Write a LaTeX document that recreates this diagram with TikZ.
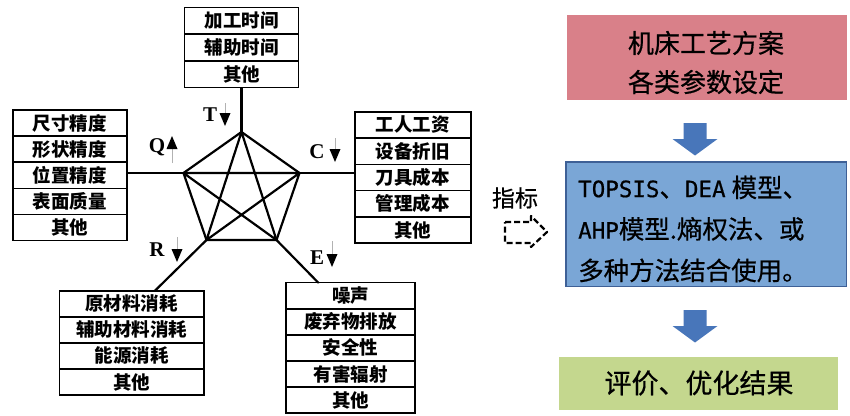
\documentclass[tikz,border=0pt]{standalone}
\usepackage{fontspec}
\setmainfont{Liberation Serif}
\newfontfamily\cjk{Noto Sans CJK SC}
\newfontfamily\cjkm[FakeBold=0.6]{Noto Sans CJK SC}
\newfontfamily\latmono[FakeBold=0.6]{DejaVu Sans Mono}
\usetikzlibrary{arrows.meta}
\definecolor{pinkc}{RGB}{217,128,137}
\definecolor{bluec}{RGB}{122,166,214}
\definecolor{blueb}{RGB}{62,96,150}
\definecolor{greenc}{RGB}{196,215,142}
\definecolor{arrowc}{RGB}{72,118,186}
\tikzset{
  cell/.style={draw, line width=1.6pt, inner sep=0pt, font=\cjk\bfseries\fontsize{18.5}{18.5}\selectfont},
  topc/.style={cell, minimum width=114pt, minimum height=26.6pt},
  leftc/.style={cell, minimum width=114pt, minimum height=26.1pt},
  rightc/.style={cell, minimum width=115.7pt, minimum height=26.3pt},
  blc/.style={cell, minimum width=144.7pt, minimum height=26.1pt},
  brc/.style={cell, minimum width=129pt, minimum height=26.06pt},
  pent/.style={line width=2.2pt, line cap=round, line join=round},
  lbl/.style={font=\fontsize{21}{21}\selectfont\bfseries, inner sep=0pt},
  tipline/.style={draw=gray!60, line width=0.7pt},
  tiphead/.style={fill=black},
  barrow/.style={fill=arrowc},
}
\begin{document}
\begin{tikzpicture}[x=1pt,y=-1pt]
\useasboundingbox[fill=white] (0,0) rectangle (850,415);

% top box
\node[topc] (t1) at (241.5,20.8) {加工时间};
\node[topc] (t2) at (241.5,47.4) {辅助时间};
\node[topc] (t3) at (241.5,74.0) {其他};
% left box
\node[leftc] (l1) at (69.7,123.05) {尺寸精度};
\node[leftc] (l2) at (69.7,149.15) {形状精度};
\node[leftc] (l3) at (69.7,175.25) {位置精度};
\node[leftc] (l4) at (69.7,201.35) {表面质量};
\node[leftc] (l5) at (69.7,227.45) {其他};
% right box
\node[rightc] (r1) at (412.9,124.85) {工人工资};
\node[rightc] (r2) at (412.9,151.15) {设备折旧};
\node[rightc] (r3) at (412.9,177.45) {刀具成本};
\node[rightc] (r4) at (412.9,203.75) {管理成本};
\node[rightc] (r5) at (412.9,230.05) {其他};
% bottom-left box
\node[blc] (b1) at (131.7,303.75) {原材料消耗};
\node[blc] (b2) at (131.7,329.85) {辅助材料消耗};
\node[blc] (b3) at (131.7,355.95) {能源消耗};
\node[blc] (b4) at (131.7,382.05) {其他};
% bottom-right box
\node[brc] (e1) at (350.5,295.7) {噪声};
\node[brc] (e2) at (350.5,321.8) {废弃物排放};
\node[brc] (e3) at (350.5,347.9) {安全性};
\node[brc] (e4) at (350.5,373.9) {有害辐射};
\node[brc] (e5) at (350.5,400.0) {其他};

% pentagon vertices
\coordinate (pT) at (241.5,132);
\coordinate (pL) at (183.5,173);
\coordinate (pR) at (299.5,173);
\coordinate (pBL) at (206.5,240);
\coordinate (pBR) at (276.5,240);
\coordinate (blend) at (155,290.7);
\coordinate (brend) at (318.3,282.7);

\draw[pent] (pT) -- (pL) -- (pBL) -- (pBR) -- (pR) -- cycle;
\draw[pent] (pT) -- (pBL) (pT) -- (pBR) (pL) -- (pR) (pL) -- (pBR) (pR) -- (pBL);
\draw[pent] (t3.south) -- (pT);
\draw[pent] (l3.east |- pL) -- (pL);
\draw[pent] (pR) -- (r3.west |- pR);
\draw[pent] (pBL) -- (blend);
\draw[pent] (pBR) -- (brend);

% labels with arrows
\node[lbl] (lT) at (210,115) {T};
\draw[tipline] (225,103) -- (225,115);
\fill[tiphead] (219.5,113) -- (230.5,113) -- (225,126) -- cycle;
\node[lbl] (lQ) at (157,147) {Q};
\draw[tipline] (172,163) -- (172,148);
\fill[tiphead] (166.5,149) -- (177.5,149) -- (172,136) -- cycle;
\node[lbl] (lC) at (317,152) {C};
\draw[tipline] (335,138) -- (335,150);
\fill[tiphead] (329.5,149) -- (340.5,149) -- (335,162) -- cycle;
\node[lbl] (lR) at (157,250) {R};
\draw[tipline] (177,237) -- (177,250);
\fill[tiphead] (171.5,249) -- (182.5,249) -- (177,262) -- cycle;
\node[lbl] (lE) at (317,258) {E};
\draw[tipline] (332,241) -- (332,255);
\fill[tiphead] (326.5,254) -- (337.5,254) -- (332,267) -- cycle;

% right side
\node[fill=pinkc, minimum width=279.7pt, minimum height=85pt, inner sep=0pt] (p) at (706.8,57.5) {};
\node[font=\cjkm\fontsize{26}{39}\selectfont, align=center, inner sep=0pt] (ptext) at (706,62.5) {机床工艺方案\\各类参数设定};

\node[fill=bluec, draw=blueb, line width=1.2pt, minimum width=280.7pt, minimum height=124.7pt, inner sep=0pt] (m) at (706.3,224.3) {};
\node[anchor=west, align=left, inner sep=0pt, font=\cjkm\fontsize{25.5}{41.5}\selectfont] (mtext) at (578,229)
  {{\latmono\fontsize{22.5}{41.5}\selectfont TOPSIS}、{\latmono\fontsize{22.5}{41.5}\selectfont DEA}\hspace{6pt}模型、\\
   {\latmono\fontsize{22.5}{41.5}\selectfont AHP}模型.熵权法、或\\
   多种方法结合使用。};

\node[fill=greenc, minimum width=279pt, minimum height=53.3pt, inner sep=0pt] (g) at (698.5,383.4) {};
\node[font=\cjkm\fontsize{27}{27}\selectfont, inner sep=0pt] (gtext) at (699,383) {评价、优化结果};

% block arrows
\fill[barrow] (683.5,123) -- (706.5,123) -- (706.5,139) -- (717.5,139) -- (695,155.5) -- (672.5,139) -- (683.5,139) -- cycle;
\fill[barrow] (683.5,310) -- (706.5,310) -- (706.5,326) -- (717.5,326) -- (695,342.5) -- (672.5,326) -- (683.5,326) -- cycle;

% indicator
\node[font=\cjkm\fontsize{23}{23}\selectfont, inner sep=0pt] (zb) at (515,198) {指标};
\draw[line width=2.2pt, dash pattern=on 6pt off 3pt, line join=round]
  (505,222) -- (531,222) -- (531,216) -- (547,232) -- (531,247) -- (531,243) -- (505,243) -- cycle;
\end{tikzpicture}
\end{document}
